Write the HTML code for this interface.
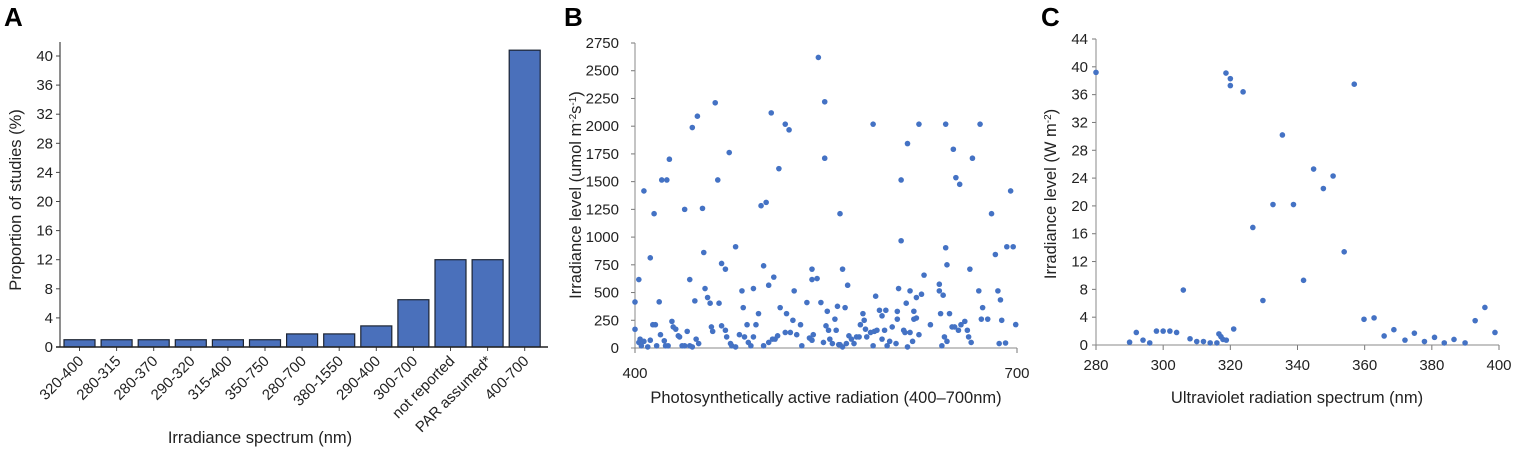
<!DOCTYPE html>
<html><head><meta charset="utf-8"><style>
body{margin:0;background:#fff}
svg{display:block;font-family:"Liberation Sans",sans-serif}
.t{font-size:15px;fill:#222}
.ti{font-size:16.5px;fill:#222}
.pl{font-size:26px;font-weight:bold;fill:#000}
</style></head><body>
<svg id="s" width="1517" height="453">
<text class="pl" x="4" y="26">A</text>
<text class="pl" x="564" y="26">B</text>
<text class="pl" x="1041" y="26">C</text>
<g id="ga"></g>
<g id="gb"></g>
<g id="gc"></g>
</svg>
<script>
const catsA=["320-400","280-315","280-370","290-320","315-400","350-750","280-700","380-1550","290-400","300-700","not reported","PAR assumed*","400-700"];
const valsA=[1,1,1,1,1,1,1.8,1.8,2.9,6.5,12,12,40.8];
const ticksA=[0,4,8,12,16,20,24,28,32,36,40];
const bx=[407,415,412,403,400,400,421,425,427,419,439,443,445,449,453,454,447,455,457,463,465,459,466,474,468,471,479,484,485,493,497,499,503,501,507,513,518,521,505,509,514,525,519,539,539,543,544,549,549,561,563,567,565,559,551,587,589,609,609,614,607,616,623,627,621,625,613,619,644,650,652,655,644,645,639,639,642,671,665,663,670,673,680,683,685,687,695,692,697,688,699,691,
403,404,405,407,410,412,414,416,417,420,423,424,426,429,430,432,434,435,437,439,441,443,445,448,450,460,461,468,471,472,475,476,479,482,486,488,489,491,493,495,501,505,508,510,512,518,522,524,527,530,531,535,537,539,540,546,548,550,552,553,555,557,558,560,561,563,566,568,570,572,574,576,577,579,580,581,582,585,587,588,590,592,594,594,596,597,598,600,602,605,606,606,611,612,614,616,618,619,621,623,632,640,641,643,645,647,649,651,654,656,659,661,662,664,672,677,686];
const by=[1416,1211,813,617,415,169,1515,1515,1702,416,1250,617,1988,2090,1259,861,425,536,455,2211,1515,404,404,1762,762,711,913,515,364,536,310,1283,1313,741,2120,1617,2018,1967,566,639,364,515,310,711,617,626,2620,2220,1711,1211,711,566,364,376,331,2018,467,1515,967,1843,536,515,2018,657,455,485,404,331,2018,1792,1536,1476,904,750,575,515,476,2018,1711,711,515,364,1211,843,515,434,1416,913,913,250,211,45,
50,80,20,60,10,70,210,210,20,120,65,20,20,240,190,170,110,100,20,20,150,20,10,80,40,190,150,200,160,100,40,20,10,120,100,210,50,20,100,210,20,50,80,80,110,140,140,250,120,210,20,410,90,70,120,410,50,200,160,80,40,260,160,30,30,10,40,110,80,40,100,100,210,310,250,170,100,140,20,150,160,340,290,80,160,340,20,60,190,40,330,260,160,140,10,140,60,260,270,120,210,310,20,100,60,310,190,190,160,210,240,160,100,50,260,260,40];
const ticksB=[0,250,500,750,1000,1250,1500,1750,2000,2250,2500,2750];
const cx=[280,290,292,294,296,298,300,302,304,306,308,310,312,314,316,316.6,317.2,317.8,318.8,318.7,320,320,321,323.8,326.7,329.7,332.7,335.5,338.8,341.8,344.8,347.7,350.6,353.9,356.9,359.8,362.8,365.8,368.7,372,374.8,377.8,380.8,383.7,386.6,389.9,392.9,395.8,398.8];
const cy=[39.2,0.4,1.8,0.7,0.3,2,2,2,1.8,7.9,0.9,0.5,0.5,0.3,0.3,1.6,1.2,0.8,0.7,39.1,38.3,37.3,2.3,36.4,16.9,6.4,20.2,30.2,20.2,9.3,25.3,22.5,24.3,13.4,37.5,3.7,3.9,1.3,2.2,0.7,1.7,0.5,1.1,0.3,0.8,0.3,3.5,5.4,1.8];
const ticksCx=[280,300,320,340,360,380,400];
const ticksCy=[0,4,8,12,16,20,24,28,32,36,40,44];
const NS="http://www.w3.org/2000/svg";
function mk(p,t,a,txt){const e=document.createElementNS(NS,t);for(const k in a)e.setAttribute(k,a[k]);if(txt!==undefined)e.textContent=txt;p.appendChild(e);return e;}
// Panel A
const ga=document.getElementById('ga');
const ayA=v=>347-v*(291/40);
const x0A=60,stepA=37.1,bwA=31;
const cxA=i=>x0A+4+bwA/2+i*stepA;
ticksA.forEach(t=>{
 let e=mk(ga,'line',{x1:x0A-4,x2:x0A,y1:ayA(t),y2:ayA(t),stroke:'#444'});
 
 e=mk(ga,'text',{class:'t',x:x0A-7,y:ayA(t)+5,'text-anchor':'end'},t);
 
});
valsA.forEach((v,i)=>{
 let e=mk(ga,'rect',{x:cxA(i)-bwA/2,y:ayA(v),width:bwA,height:ayA(0)-ayA(v),fill:'#4a70bb',stroke:'#1c2433','stroke-width':1.2});
 
 e=mk(ga,'line',{x1:cxA(i),x2:cxA(i),y1:347,y2:351,stroke:'#444'});
 
 e=mk(ga,'text',{class:'t',x:0,y:0,'text-anchor':'end',transform:`translate(${cxA(i)+5},${362}) rotate(-45)`},catsA[i]);
 
});
let e=mk(ga,'line',{x1:x0A,x2:x0A,y1:42,y2:347,stroke:'#444','stroke-width':1.2});
e=mk(ga,'line',{x1:x0A-4,x2:548,y1:347,y2:347,stroke:'#222','stroke-width':1.5});
e=mk(ga,'text',{class:'ti',x:0,y:0,'text-anchor':'middle',transform:'translate(21,200) rotate(-90)'},'Proportion of studies (%)');
e=mk(ga,'text',{class:'ti',x:260,y:443,'text-anchor':'middle'},'Irradiance spectrum (nm)');
// Panel B
const gb=document.getElementById('gb');
const axB=v=>635+(v-400)*(382/300), ayB=v=>348-v*(305/2750);
ticksB.forEach(t=>{
 let e=mk(gb,'line',{x1:631,x2:635,y1:ayB(t),y2:ayB(t),stroke:'#777'});
 e=mk(gb,'text',{class:'t',x:619,y:ayB(t)+5,'text-anchor':'end'},t);
});
[400,700].forEach(t=>{
 let e=mk(gb,'line',{x1:axB(t),x2:axB(t),y1:348,y2:353,stroke:'#777'});
 e=mk(gb,'text',{class:'t',x:axB(t),y:378,'text-anchor':'middle'},t);
});
e=mk(gb,'line',{x1:635,x2:635,y1:43,y2:348,stroke:'#888'});
e=mk(gb,'line',{x1:631,x2:1017,y1:348,y2:348,stroke:'#888'});
bx.forEach((x,i)=>{let e=mk(gb,'circle',{cx:axB(x),cy:ayB(by[i]),r:2.8,fill:'#4472c4'});});
e=mk(gb,'text',{class:'ti',x:0,y:0,'text-anchor':'middle',transform:'translate(581,195) rotate(-90)'},'');
e.innerHTML='Irradiance level (umol m<tspan baseline-shift="super" font-size="10">-2</tspan>s<tspan baseline-shift="super" font-size="10">-1</tspan>)';
e=mk(gb,'text',{class:'ti',x:826,y:403,'text-anchor':'middle'},'Photosynthetically active radiation (400–700nm)');
// Panel C
const gc=document.getElementById('gc');
const axC=v=>1096+(v-280)*(403/120), ayC=v=>345-v*(306/44);
ticksCy.forEach(t=>{
 let e=mk(gc,'line',{x1:1092,x2:1096,y1:ayC(t),y2:ayC(t),stroke:'#777'});
 e=mk(gc,'text',{class:'t',x:1088,y:ayC(t)+5,'text-anchor':'end'},t);
});
ticksCx.forEach(t=>{
 let e=mk(gc,'line',{x1:axC(t),x2:axC(t),y1:345,y2:350,stroke:'#777'});
 e=mk(gc,'text',{class:'t',x:axC(t),y:370,'text-anchor':'middle'},t);
});
e=mk(gc,'line',{x1:1096,x2:1096,y1:39,y2:345,stroke:'#888'});
e=mk(gc,'line',{x1:1092,x2:1499,y1:345,y2:345,stroke:'#888'});
cx.forEach((x,i)=>{let e=mk(gc,'circle',{cx:axC(x),cy:ayC(cy[i]),r:2.8,fill:'#4472c4'});});
e=mk(gc,'text',{class:'ti',x:0,y:0,'text-anchor':'middle',transform:'translate(1056,194) rotate(-90)'},'');
e.innerHTML='Irradiance level (W m<tspan baseline-shift="super" font-size="10">-2</tspan>)';
e=mk(gc,'text',{class:'ti',x:1297,y:403,'text-anchor':'middle'},'Ultraviolet radiation spectrum (nm)');
</script>
</body></html>
